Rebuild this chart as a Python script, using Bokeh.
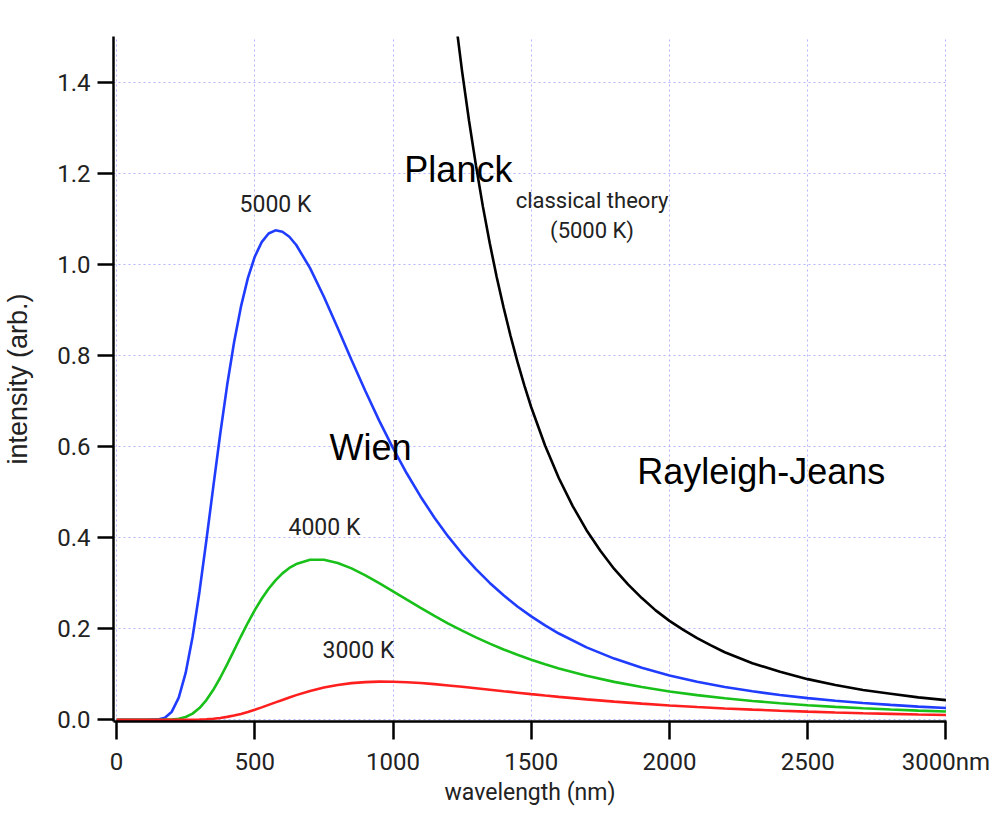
from bokeh.plotting import figure
from bokeh.models import Range1d, FixedTicker, Label
from bokeh.embed import file_html
from bokeh.resources import INLINE

# ---- data ----
wavelength_nm = [0, 100, 150, 175, 200, 225, 250, 275, 300, 325,
                 350, 375, 400, 425, 450, 475, 500, 525, 550, 575,
                 600, 625, 650, 700, 750, 800, 850, 900, 950, 1000,
                 1050, 1100, 1150, 1200, 1250, 1300, 1350, 1400, 1450, 1500,
                 1550, 1600, 1700, 1800, 1900, 2000, 2100, 2200, 2300, 2400,
                 2500, 2600, 2700, 2800, 2900, 3000]

planck_5000K = [0, 0.0, 0.0006, 0.0044, 0.0176, 0.0484, 0.1027, 0.1815, 0.2810, 0.3939,
                0.5118, 0.6273, 0.7341, 0.8280, 0.9068, 0.9695, 1.0165, 1.0486, 1.0674, 1.0744,
                1.0714, 1.0604, 1.0422, 0.9915, 0.9286, 0.8600, 0.7899, 0.7217, 0.6567, 0.5963,
                0.5405, 0.4896, 0.4435, 0.4018, 0.3643, 0.3306, 0.3002, 0.2730, 0.2486, 0.2267,
                0.2069, 0.1892, 0.1588, 0.1341, 0.1139, 0.0972, 0.0834, 0.0719, 0.0623, 0.0542,
                0.0474, 0.0416, 0.0366, 0.0324, 0.0287, 0.0256]

planck_4000K = [0, 0, 0, 0.0001, 0.0005, 0.0020, 0.0058, 0.0133, 0.0255, 0.0430,
                0.0655, 0.0921, 0.1214, 0.1522, 0.1831, 0.2128, 0.2405, 0.2656, 0.2874, 0.3060,
                0.3212, 0.3331, 0.3418, 0.3511, 0.3511, 0.3441, 0.3322, 0.3170, 0.2999, 0.2818,
                0.2634, 0.2453, 0.2278, 0.2111, 0.1954, 0.1806, 0.1669, 0.1542, 0.1425, 0.1317,
                0.1217, 0.1126, 0.0965, 0.0830, 0.0716, 0.0620, 0.0539, 0.0470, 0.0411, 0.0361,
                0.0318, 0.0282, 0.0250, 0.0222, 0.0198, 0.0178]

planck_3000K = [0, 0, 0, 0, 0, 0, 0, 0, 0.0005, 0.0011,
                0.0021, 0.0038, 0.0061, 0.0091, 0.0127, 0.0170, 0.0219, 0.0270, 0.0325, 0.0380,
                0.0434, 0.0488, 0.0539, 0.0630, 0.0705, 0.0762, 0.0802, 0.0825, 0.0835, 0.0833,
                0.0822, 0.0804, 0.0780, 0.0752, 0.0722, 0.0690, 0.0658, 0.0625, 0.0593, 0.0561,
                0.0530, 0.0501, 0.0446, 0.0396, 0.0352, 0.0312, 0.0278, 0.0247, 0.0221, 0.0197,
                0.0176, 0.0158, 0.0142, 0.0128, 0.0115, 0.0104]

rj_wavelength_nm = [1200, 1225, 1250, 1275, 1300, 1325, 1350, 1375, 1400, 1425,
                    1450, 1475, 1500, 1550, 1600, 1650, 1700, 1750, 1800, 1850,
                    1900, 1950, 2000, 2050, 2100, 2150, 2200, 2250, 2300, 2400,
                    2500, 2600, 2700, 2800, 2900, 3000]
rayleigh_jeans_5000K = [1.676, 1.543, 1.423, 1.315, 1.217, 1.127, 1.046, 0.972, 0.905, 0.843,
                        0.786, 0.734, 0.686, 0.602, 0.530, 0.469, 0.416, 0.371, 0.331, 0.297,
                        0.267, 0.240, 0.217, 0.197, 0.179, 0.163, 0.148, 0.136, 0.124, 0.105,
                        0.089, 0.076, 0.065, 0.057, 0.049, 0.043]

x_ticks = [0, 500, 1000, 1500, 2000, 2500, 3000]
x_tick_labels = ["0", "500", "1000", "1500", "2000", "2500", "3000nm"]
x_title = "wavelength (nm)"
y_ticks = [0.0, 0.2, 0.4, 0.6, 0.8, 1.0, 1.2, 1.4]
y_tick_labels = ["0.0", "0.2", "0.4", "0.6", "0.8", "1.0", "1.2", "1.4"]
y_title = "intensity (arb.)"

SMALL_FONT = "Roboto"
BIG_FONT = "Liberation Sans"
TEXT_COLOR = "#222222"

p = figure(width=990, height=811, output_backend="svg", toolbar_location=None,
           x_range=Range1d(-11, 3002), y_range=Range1d(-0.004, 1.5),
           min_border_left=112, min_border_right=44, min_border_top=36, min_border_bottom=90)
p.outline_line_color = None
p.background_fill_color = "white"
p.border_fill_color = "white"

# grid
p.grid.grid_line_color = "#b4b4ff"
p.grid.grid_line_dash = "2 3"
p.grid.grid_line_width = 1

# axes
for ax in (p.xaxis[0], p.yaxis[0]):
    ax.axis_line_width = 2.5
    ax.axis_line_color = "black"
    ax.major_tick_line_width = 2.5
    ax.major_tick_line_color = "black"
    ax.major_tick_in = 0
    ax.minor_tick_in = 0
    ax.minor_tick_out = 0
    ax.major_label_text_font = SMALL_FONT
    ax.major_label_text_font_size = "24px"
    ax.major_label_text_color = TEXT_COLOR

p.xaxis.ticker = FixedTicker(ticks=x_ticks)
p.xaxis.major_label_overrides = dict(zip(x_ticks, x_tick_labels))
p.xaxis.major_tick_out = 18
p.xaxis.major_label_standoff = 8
p.xaxis.axis_label = x_title
p.xaxis.axis_label_text_font = SMALL_FONT
p.xaxis.axis_label_text_font_size = "23px"
p.xaxis.axis_label_text_font_style = "normal"
p.xaxis.axis_label_text_color = TEXT_COLOR
p.xaxis.axis_label_standoff = 0

p.yaxis.ticker = FixedTicker(ticks=y_ticks)
p.yaxis.major_label_overrides = dict(zip(y_ticks, y_tick_labels))
p.yaxis.major_tick_out = 16
p.yaxis.major_label_standoff = 7
p.yaxis.axis_label = y_title
p.yaxis.axis_label_text_font = BIG_FONT
p.yaxis.axis_label_text_font_size = "27px"
p.yaxis.axis_label_text_font_style = "normal"
p.yaxis.axis_label_text_color = TEXT_COLOR
p.yaxis.axis_label_standoff = 21

# curves
p.line(rj_wavelength_nm, rayleigh_jeans_5000K, line_color="black", line_width=2.6)
p.line(wavelength_nm, planck_5000K, line_color="#1f3cff", line_width=2.6)
p.line(wavelength_nm, planck_4000K, line_color="#19c019", line_width=2.6)
p.line(wavelength_nm, planck_3000K, line_color="#ff1f1f", line_width=2.6)

# small annotations
for txt, xx, yy, align, size in [("5000 K", 445, 1.132, "left", "23px"),
                                 ("4000 K", 622, 0.421, "left", "23px"),
                                 ("3000 K", 745, 0.151, "left", "23px"),
                                 ("classical theory", 1720, 1.140, "center", "22px"),
                                 ("(5000 K)", 1720, 1.074, "center", "22px")]:
    p.add_layout(Label(x=xx, y=yy, text=txt, text_align=align, text_baseline="alphabetic",
                       text_font=SMALL_FONT, text_font_size=size, text_color=TEXT_COLOR))

# big annotations
for txt, xx, yy in [("Planck", 1041, 1.209), ("Wien", 770, 0.597), ("Rayleigh-Jeans", 1883, 0.546)]:
    p.add_layout(Label(x=xx, y=yy, text=txt, text_align="left", text_baseline="alphabetic",
                       text_font=BIG_FONT, text_font_size="36px", text_color="black"))

open("out.html", "w").write(file_html(p, INLINE))
